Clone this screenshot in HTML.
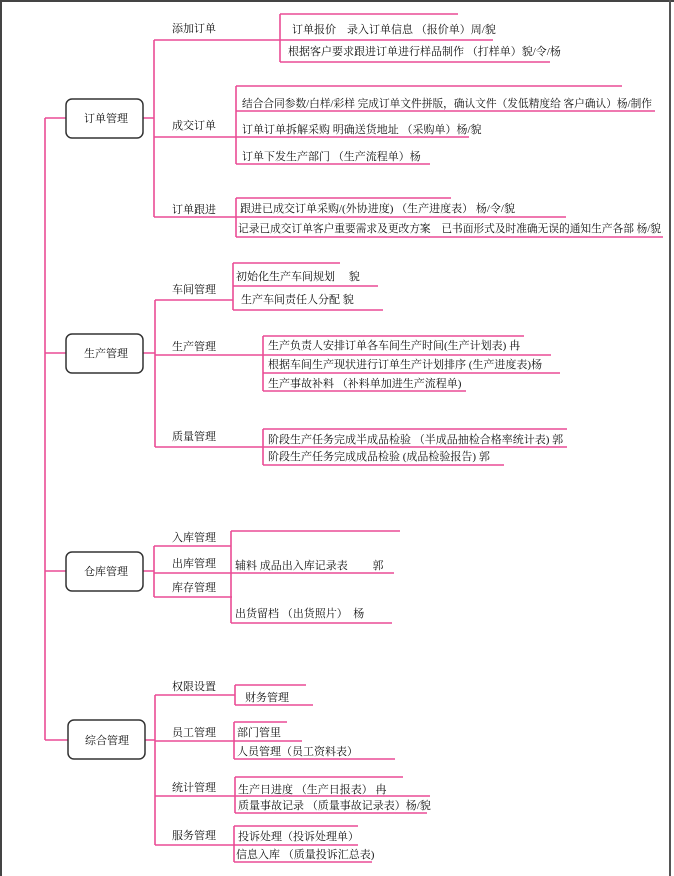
<!DOCTYPE html>
<html><head><meta charset="utf-8"><style>
html,body{margin:0;padding:0;background:#fff;}
svg{display:block;}
text{font-family:"Liberation Serif","Noto Serif CJK SC",serif;font-size:11px;fill:#111;}
</style></head><body>
<svg width="674" height="876" viewBox="0 0 674 876" xmlns="http://www.w3.org/2000/svg">
<rect x="0" y="0" width="674" height="876" fill="#fff"/>
<line x1="1" y1="0" x2="1" y2="876" stroke="#444" stroke-width="2"/>
<line x1="0" y1="1" x2="674" y2="1" stroke="#444" stroke-width="2"/>
<line x1="670" y1="0" x2="670" y2="876" stroke="#555" stroke-width="2"/>
<g stroke="#ea4c95" stroke-width="1.6" fill="none">
<path d="M45 118V740M45 118H66M45 353H66M45 571H66M45 740H68"/>
<path d="M143 118H154M154 40V217M154 40H280M154 137H236M154 217H236"/>
<path d="M280 14V62M280 14H458M280 40H493M280 62H550"/>
<path d="M236 86V164M236 86H622M236 111H655M236 137H469M236 164H430"/>
<path d="M236 198V237M236 198H451M236 217H566M236 237H663"/>
<path d="M143 353H155M155 300V447M155 300H233M155 355H263M155 447H263"/>
<path d="M233 263V310M233 263H340M233 286H378M233 310H383"/>
<path d="M263 336V391M263 336H524M263 355H551M263 373H560M263 391H466"/>
<path d="M263 429V465M263 429H567M263 447H567M263 465H504"/>
<path d="M143 571H154M154 546V597M154 546H231M154 573H231M154 597H232"/>
<path d="M231 531V623M231 531H400M231 573H394M231 623H392"/>
<path d="M145 740H155M155 695V845M155 695H235M155 741H235M155 796H235M155 845H235"/>
<path d="M235 685V705M235 685H306M235 705H313"/>
<path d="M234 722V759M234 722H287M234 741H302M234 759H395"/>
<path d="M235 777V813M235 777H403M235 796H430M235 813H427"/>
<path d="M234 826V862M234 826H358M234 845H358M234 862H372"/>
</g>
<g fill="#fff" stroke="#333" stroke-width="1.5">
<rect x="66" y="99" width="77" height="39" rx="6"/>
<rect x="66" y="334" width="77" height="39" rx="6"/>
<rect x="66" y="552" width="77" height="39" rx="6"/>
<rect x="68" y="720" width="77" height="39" rx="6"/>
</g>
<text x="84" y="122">订单管理</text>
<text x="84" y="357">生产管理</text>
<text x="84" y="575">仓库管理</text>
<text x="85" y="744">综合管理</text>

<text x="172" y="32">添加订单</text>
<text x="292" y="33">订单报价　录入订单信息 （报价单）周/貌</text>
<text x="288" y="55">根据客户要求跟进订单进行样品制作 （打样单）貌/令/杨</text>
<text x="172" y="129">成交订单</text>
<text x="242" y="107" textLength="410" lengthAdjust="spacingAndGlyphs">结合合同参数/白样/彩样 完成订单文件拼版，确认文件（发低精度给 客户确认）杨/制作</text>
<text x="242" y="133">订单订单拆解采购 明确送货地址 （采购单）杨/貌</text>
<text x="242" y="160">订单下发生产部门 （生产流程单）杨</text>
<text x="172" y="213">订单跟进</text>
<text x="240" y="212">跟进已成交订单采购/(外协进度) （生产进度表） 杨/令/貌</text>
<text x="238" y="232" textLength="423" lengthAdjust="spacingAndGlyphs">记录已成交订单客户重要需求及更改方案　已书面形式及时准确无误的通知生产各部 杨/貌</text>

<text x="172" y="293">车间管理</text>
<text x="236" y="280">初始化生产车间规划　 貌</text>
<text x="241" y="303">生产车间责任人分配 貌</text>
<text x="172" y="350">生产管理</text>
<text x="268" y="349">生产负责人安排订单各车间生产时间(生产计划表) 冉</text>
<text x="268" y="368">根据车间生产现状进行订单生产计划排序 (生产进度表)杨</text>
<text x="268" y="387">生产事故补料 （补料单加进生产流程单)</text>
<text x="172" y="440">质量管理</text>
<text x="268" y="443">阶段生产任务完成半成品检验 （半成品抽检合格率统计表) 郭</text>
<text x="268" y="460">阶段生产任务完成成品检验 (成品检验报告) 郭</text>

<text x="172" y="541">入库管理</text>
<text x="172" y="567">出库管理</text>
<text x="172" y="591">库存管理</text>
<text x="235" y="569">辅料 成品出入库记录表　　 郭</text>
<text x="235" y="617">出货留档 （出货照片）　杨</text>

<text x="172" y="690">权限设置</text>
<text x="245" y="701">财务管理</text>
<text x="172" y="736">员工管理</text>
<text x="237" y="736">部门管里</text>
<text x="237" y="755">人员管理（员工资料表）</text>
<text x="172" y="791">统计管理</text>
<text x="238" y="793">生产日进度 （生产日报表） 冉</text>
<text x="238" y="809">质量事故记录 （质量事故记录表）杨/貌</text>
<text x="172" y="839">服务管理</text>
<text x="238" y="840">投诉处理（投诉处理单）</text>
<text x="236" y="858">信息入库 （质量投诉汇总表)</text>
</svg>
</body></html>
